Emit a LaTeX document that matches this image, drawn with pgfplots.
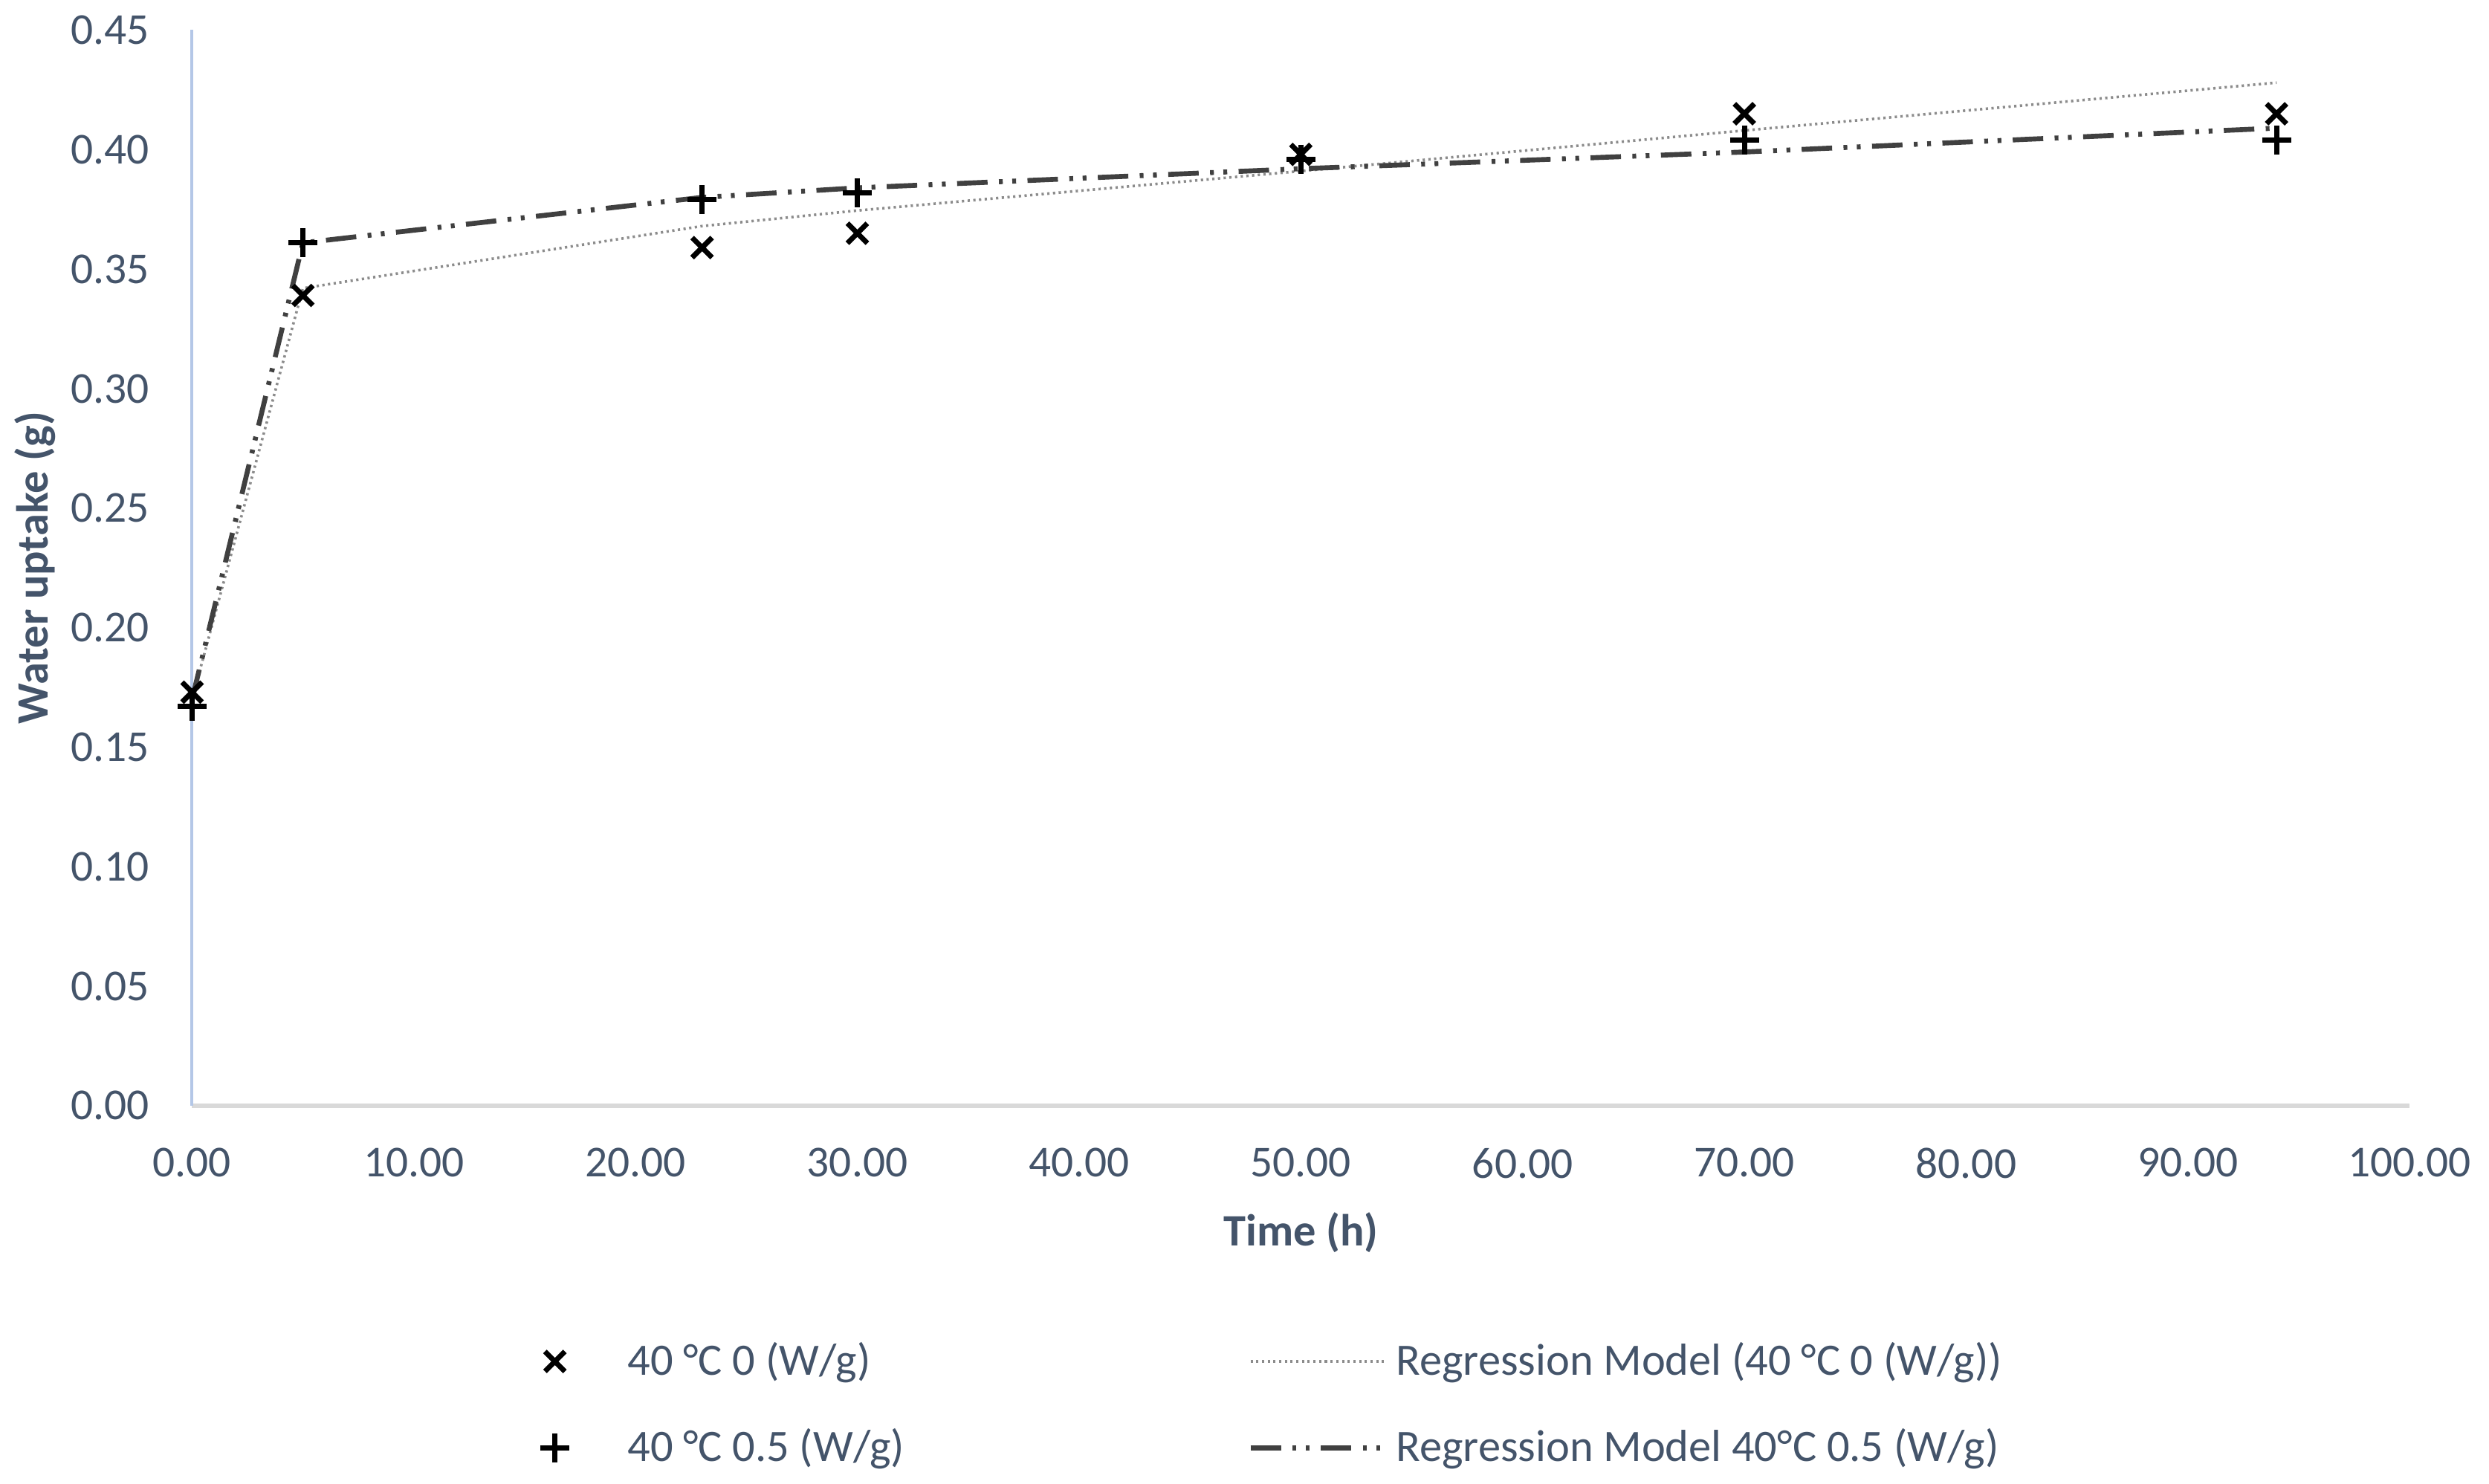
\documentclass[border=0pt]{standalone}
\usepackage{fontspec}
\setmainfont{Carlito}
\usepackage{pgfplots}
\pgfplotsset{compat=1.18}
\definecolor{txt}{RGB}{68,84,106}
\definecolor{yline}{RGB}{180,199,231}
\definecolor{xline}{RGB}{217,217,217}
\definecolor{dotgrey}{RGB}{140,140,140}
\definecolor{dashgrey}{RGB}{64,64,64}
\pgfplotsset{
    longline/.style={legend image code/.code={\draw[##1] (0cm,0cm) -- (1.25cm,0cm);}},
    markimg/.style={legend image code/.code={\path[draw=none] (0cm,0cm) -- (0.9cm,0cm);
        \draw[##1, only marks] plot coordinates {(0.3cm,0cm)};}},
}

\begin{document}
\begin{tikzpicture}
\begin{axis}[
    name=ax,
    scale only axis,
    width=20.47cm, height=9.93cm,
    xmin=0, xmax=100, ymin=0, ymax=0.45,
    xtick={0,10,...,100},
    ytick={0,0.05,...,0.45},
    axis x line*=bottom, axis y line*=left,
    x axis line style={xline, line width=1.2pt, -},
    y axis line style={yline, line width=0.8pt, -},
    major tick length=0pt,
    tick label style={font=\fontsize{11.6}{13}\selectfont, text=txt},
    /pgf/number format/assume math mode=true,
    /pgf/number format/.cd, fixed, fixed zerofill, precision=2, /pgfplots/.cd,
    yticklabel style={xshift=-0.27cm},
    xticklabel style={yshift=-0.27cm},
    xlabel={Time (h)}, ylabel={Water uptake (g)},
    label style={font=\fontsize{11.8}{13}\selectfont\bfseries, text=txt},
    xlabel style={at={(axis description cs:0.5,-0.118)}, anchor=center},
    ylabel style={at={(axis description cs:-0.0709,0.5)}, anchor=center},
    legend columns=2,
    legend cell align=left,
    legend style={at={(axis description cs:0.1435,-0.205)}, anchor=north west,
        draw=none, fill=none, font=\fontsize{11.8}{13}\selectfont, text=txt,
        row sep=0.3cm,
        /tikz/every even column/.append style={column sep=3.1cm}},
    clip=false,
]

% 40 C, 0 W/g measured
\addplot[only marks, mark=x, mark size=3.7pt, line width=1.35pt, black, markimg] coordinates {
    (0,0.173)(5,0.339)(23,0.359)(30,0.365)(50,0.398)(70,0.415)(94,0.415)
};
\addlegendentry{40 °C 0 (W/g)}

% regression model, 0 W/g
\addplot[dotgrey, line width=0.7pt, dash pattern=on 0.6pt off 0.9pt, longline] coordinates {
    (0,0.170)(5,0.342)(23,0.368)(30,0.3745)(50,0.391)(70,0.408)(94,0.428)
};
\addlegendentry{Regression Model (40 °C 0 (W/g))}

% 40 C, 0.5 W/g measured
\addplot[only marks, mark=+, mark size=3.8pt, line width=1.35pt, black, markimg] coordinates {
    (0,0.167)(5,0.361)(23,0.379)(30,0.382)(50,0.396)(70,0.404)(94,0.404)
};
\addlegendentry{40 °C 0.5 (W/g)}

% regression model, 0.5 W/g
\addplot[dashgrey, line width=1.3pt,
    dash pattern=on 8pt off 3pt on 1pt off 2.5pt on 1pt off 3pt, longline] coordinates {
    (0,0.170)(5,0.361)(23,0.380)(30,0.384)(50,0.392)(70,0.399)(94,0.409)
};
\addlegendentry{Regression Model 40°C 0.5 (W/g)}

\end{axis}
\path (ax.south west) ++(-1.773cm,-3.487cm) coordinate (bl);
\path (ax.north east) ++(0.733cm,0.278cm) coordinate (tr);
\path (bl) rectangle (tr);
\end{tikzpicture}
\end{document}
